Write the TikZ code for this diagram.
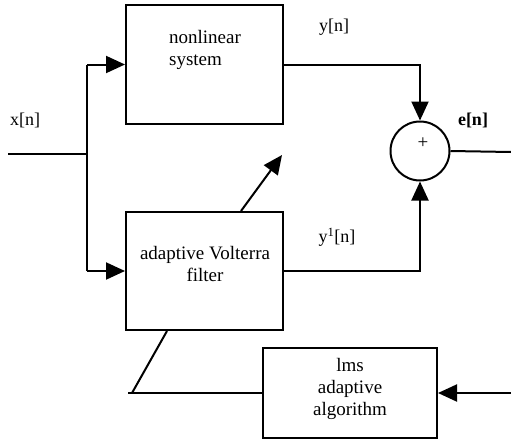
\documentclass[tikz,border=0pt]{standalone}
\usepackage{fontspec}
\setmainfont{Liberation Serif}
\usetikzlibrary{arrows.meta,calc}
\begin{document}
\begin{tikzpicture}[x=1pt,y=-1pt,
  line width=2pt,
  block/.style={draw,rectangle,inner sep=0pt},
  txt/.style={inner sep=0pt,align=center,font=\fontsize{19}{22}\selectfont},
  lbl/.style={inner sep=0pt,font=\fontsize{18}{22}\selectfont},
  tip/.style={-{Triangle[length=19pt,width=17pt]}},
  ]
\useasboundingbox (0,0) rectangle (511,442);

% blocks
\node[block,minimum width=157pt,minimum height=119pt] (nls) at (204.5,64.5) {};
\node[block,minimum width=157pt,minimum height=118pt] (avf) at (204.5,271) {};
\node[block,minimum width=174pt,minimum height=90pt] (lms) at (350,393) {};
\node[draw,circle,minimum size=59pt,inner sep=0pt] (sum) at (420,151) {};

% block texts
\node[txt,align=left] (nlstxt) at (205,50) {nonlinear\\system};
\node[txt] (avftxt) at (205,264) {adaptive Volterra\\filter};
\node[txt] (lmstxt) at (350,389) {lms\\adaptive\\algorithm};
\node[inner sep=0pt,font=\fontsize{19}{19}\selectfont] (plus) at (423,143) {+};

% signal labels
\node[lbl] (xl) at (25,120) {x[n]};
\node[lbl] (yl) at (334,27) {y[n]};
\node[lbl] (ypl) at (337,237) {y$^{\mathrm{1}}$[n]};
\node[lbl,font=\bfseries\fontsize{18}{22}\selectfont] (el) at (473,120) {e[n]};

% helper points
\coordinate (xin) at (8,154);
\coordinate (split) at (87,154);
\coordinate (ntop) at (87,64.5);
\coordinate (nbot) at (87,271);
\coordinate (eout) at (511,152);
\coordinate (fbin) at (511,393);
\coordinate (adjfrom) at ($(avf.north west)+(116,0)$);
\coordinate (adjto) at (282,155);
\coordinate (lmsleft) at (128,393);
\coordinate (kneel) at (132,393);
\coordinate (avfbot) at ($(avf.south west)+(42,0)$);

% input distribution
\draw (xin) -- (split);
\draw (ntop) -- (nbot);
\draw[tip] (ntop) -- (nls.west);
\draw[tip] (nbot) -- (avf.west);

% outputs into the summing junction
\draw[tip] (nls.east) -| (sum.north);
\draw[tip] (avf.east) -| (sum.south);
\draw (sum.east) -- (eout);

% adaptation
\draw[tip] (adjfrom) -- (adjto);
\draw[tip] (fbin) -- (lms.east);
\draw (lms.west) -- (lmsleft);
\draw (kneel) -- (avfbot);
\end{tikzpicture}
\end{document}
